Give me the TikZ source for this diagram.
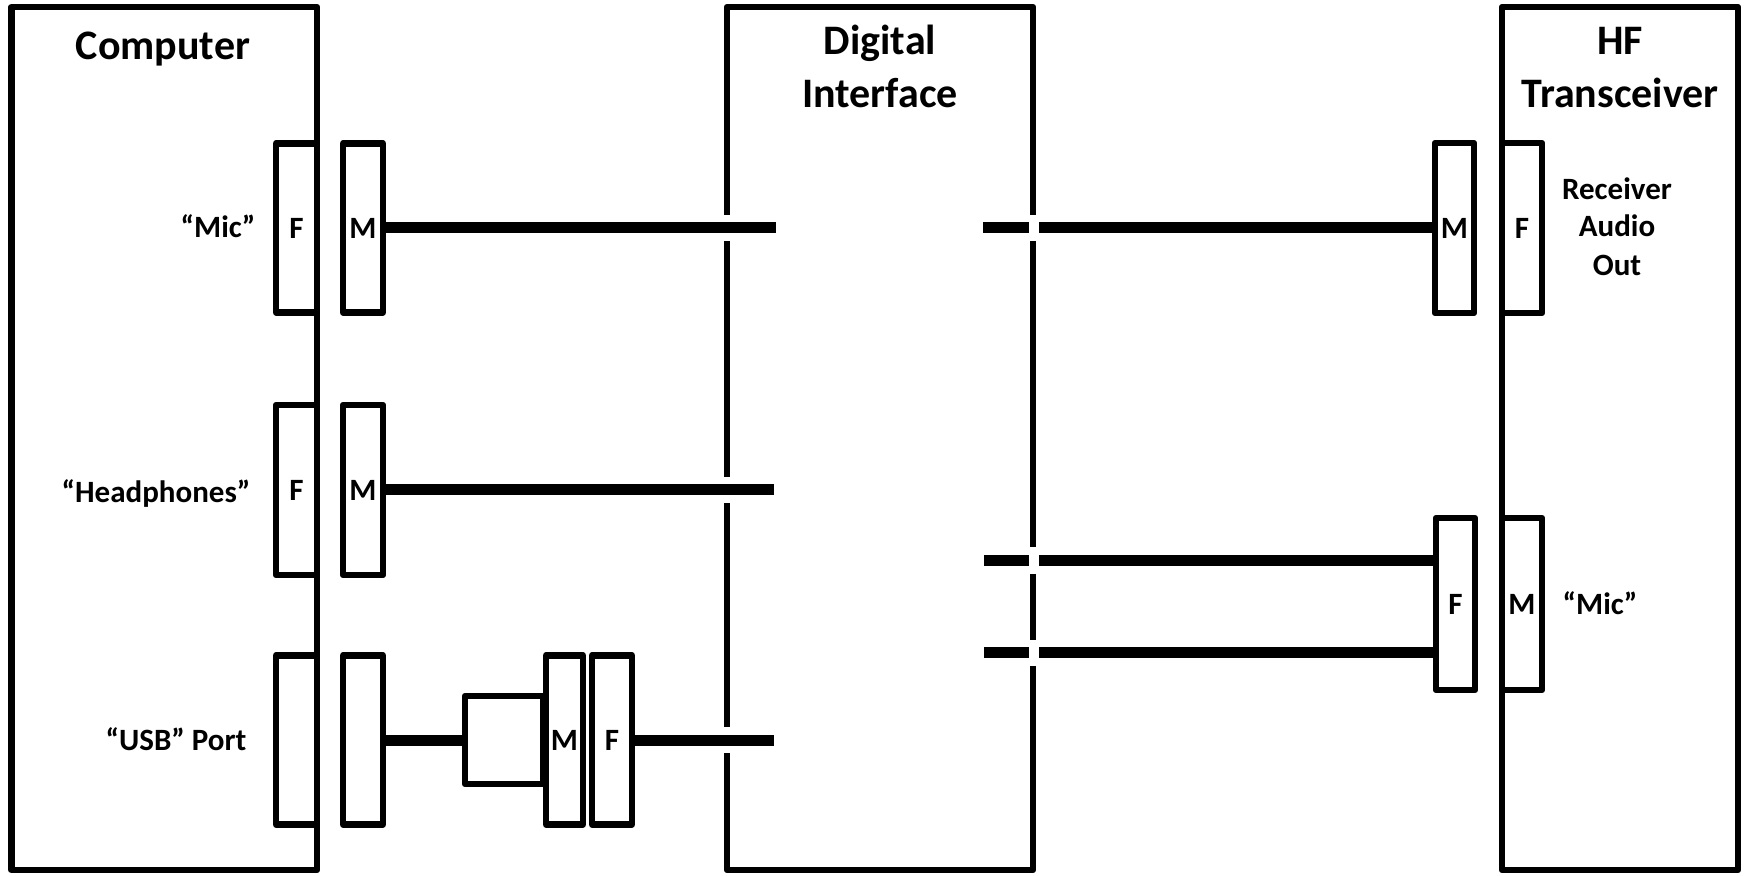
\documentclass[tikz,border=0pt]{standalone}
\usepackage{fontspec}
\setmainfont{Carlito}
\begin{document}
\begin{tikzpicture}[x=0.5pt,y=-0.5pt,
  frame/.style 2 args={draw,line width=3.25pt,line join=round,inner sep=0pt,
    minimum width=#1*0.5pt,minimum height=#2*0.5pt},
  plug/.style 2 args={frame={#1}{#2},font=\fontsize{15.5}{19}\selectfont\bfseries},
  title/.style={font=\fontsize{21}{26.5}\selectfont\bfseries,anchor=base,inner sep=0pt},
  lbl/.style={font=\fontsize{15.5}{19}\selectfont\bfseries,anchor=base,inner sep=0pt},
  wire/.style={line width=5.5pt},
  gapfill/.style={fill=white,draw=none}]
\useasboundingbox (0,0) rectangle (1746,876);
% main boxes
\node[frame={305.5}{863}] (comp) at (164.25,438.5) {};
\node[frame={306}{863}] (dig) at (880,438.5) {};
\node[frame={236}{863}] (hf) at (1620,438.5) {};
% titles
\node[title] (tcomp) at (163,60) {Computer};
\node[title] (tdig1) at (880,55) {Digital};
\node[title] (tdig2) at (880,108) {Interface};
\node[title] (thf1) at (1620,55) {HF};
\node[title] (thf2) at (1620,108) {Transceiver};
% labels
\node[lbl] (lmic) at (218,238) {“Mic”};
\node[lbl] (lhead) at (156,503) {“Headphones”};
\node[lbl] (lusb) at (176,750) {“USB” Port};
\node[lbl] (rrx1) at (1617,200) {Receiver};
\node[lbl] (rrx2) at (1617,237) {Audio};
\node[lbl] (rrx3) at (1617,276) {Out};
\node[lbl] (rmic) at (1600,615) {“Mic”};
% computer side connectors
\node[plug={41}{169}] (cmicF) at (296.5,228) {F};
\node[plug={40}{169}] (cmicM) at (363,228) {M};
\node[plug={41}{170}] (cheadF) at (296.5,490) {F};
\node[plug={40}{170}] (cheadM) at (363,490) {M};
\node[plug={41}{169}] (cusbF) at (296.5,740) {};
\node[plug={40}{169}] (cusbM) at (363,740) {};
\node[frame={78}{88}] (dongle) at (504,740) {};
\node[plug={37}{169}] (dongM) at (564.5,740) {M};
\node[plug={40}{169}] (dongF) at (612,740) {F};
% transceiver side connectors
\node[plug={39}{170}] (rxM) at (1454.5,228) {M};
\node[plug={40}{170}] (rxF) at (1522,228) {F};
\node[plug={39}{172}] (txF) at (1455.5,604) {F};
\node[plug={40}{172}] (txM) at (1522,604) {M};
% wire end coordinates
\coordinate (dmicL) at (776,228);
\coordinate (dheadL) at (774,490);
\coordinate (dusbL) at (774,740);
\coordinate (dmicR) at (983,228);
\coordinate (dtx1) at (984,561);
\coordinate (dtx2) at (984,653);
% gaps in the left edge of the interface
\fill[gapfill] (721,215) rectangle (733,241);
\fill[gapfill] (721,477) rectangle (733,503);
\fill[gapfill] (721,727) rectangle (733,753);
% wires
\draw[wire] (cmicM.east) -- (dmicL);
\draw[wire] (cheadM.east) -- (dheadL);
\draw[wire] (cusbM.east) -- (cusbM.east -| dongle.west);
\draw[wire] (dongF.east) -- (dusbL);
\draw[wire] (dmicR) -- (dmicR -| rxM.west);
\draw[wire] (dtx1) -- (dtx1 -| txF.west);
\draw[wire] (dtx2) -- (dtx2 -| txF.west);
% gaps at the right edge of the interface
\fill[gapfill] (1028.5,215) rectangle (1039,241);
\fill[gapfill] (1028.5,547) rectangle (1039,574);
\fill[gapfill] (1028.5,640) rectangle (1039,666);
\end{tikzpicture}
\end{document}
